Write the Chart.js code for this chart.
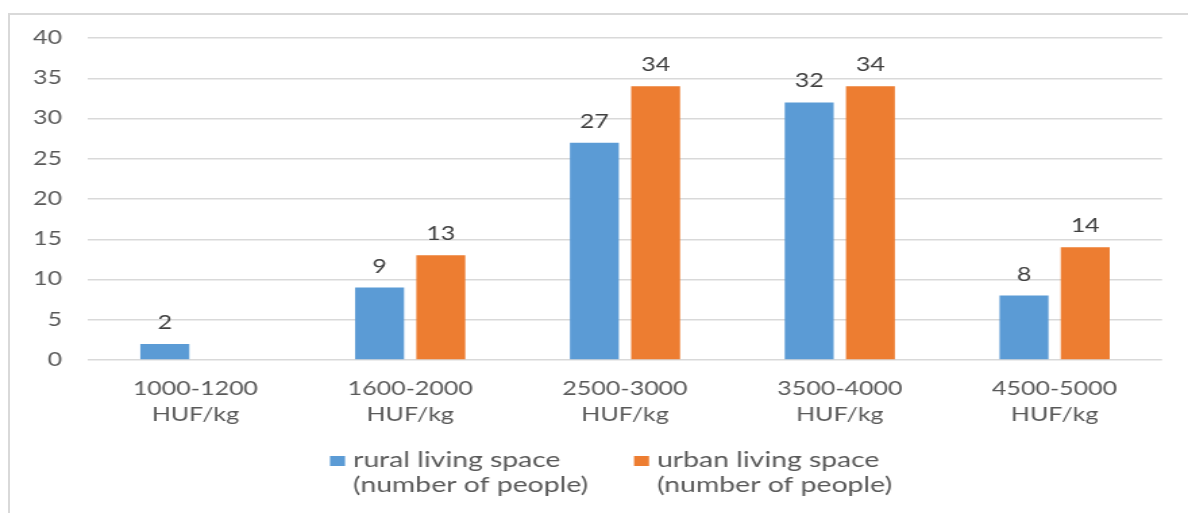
<!DOCTYPE html>
<html>
<head>
<meta charset="utf-8">
<script src="https://cdn.jsdelivr.net/npm/chart.js@4.4.1/dist/chart.umd.min.js"></script>
<style>
    html, body { margin: 0; padding: 0; background: #fff; overflow: hidden; }
    #frame {
        position: absolute; left: 8px; top: 13px; width: 1300px; height: 600px;
        border-left: 2px solid #d9d9d9; border-top: 2px solid #d9d9d9;
    }
    #chart { position: absolute; left: 0; top: 0; }
</style>
</head>
<body>
<div id="frame"></div>
<canvas id="chart" width="880" height="513" style="width:1188px;height:513px"></canvas>
<script>
// the original picture is stretched sideways, so the canvas is too
const STRETCH = 1188 / 880;

const categories = [
    ['1000-1200', 'HUF/kg'],
    ['1600-2000', 'HUF/kg'],
    ['2500-3000', 'HUF/kg'],
    ['3500-4000', 'HUF/kg'],
    ['4500-5000', 'HUF/kg']
];
const rural = [2, 9, 27, 32, 8];
const urban = [null, 13, 34, 34, 14];
const seriesNames = [
    ['rural living space', '(number of people)'],
    ['urban living space', '(number of people)']
];
const seriesColors = ['#5B9BD5', '#ED7D31'];
const yMin = 0, yMax = 40, yStep = 5;

const FONT = 'Lato';
const TEXT = '#595959';

// value labels above bars
const valueLabels = {
    id: 'valueLabels',
    afterDatasetsDraw(chart) {
        const ctx = chart.ctx;
        ctx.save();
        ctx.font = '18.5px ' + FONT;
        ctx.fillStyle = '#404040';
        ctx.textAlign = 'center';
        ctx.textBaseline = 'alphabetic';
        chart.data.datasets.forEach((ds, i) => {
            chart.getDatasetMeta(i).data.forEach((bar, j) => {
                const v = ds.data[j];
                if (v === null || v === undefined) return;
                ctx.fillText(String(v), bar.x, bar.y - 15);
            });
        });
        ctx.restore();
    }
};

// two-line legend below the axis
const twoLineLegend = {
    id: 'twoLineLegend',
    afterDraw(chart) {
        const ctx = chart.ctx;
        const boxX = [330 / STRETCH, 634 / STRETCH];
        const textX = [353 / STRETCH, 657 / STRETCH];
        ctx.save();
        ctx.font = '21px ' + FONT;
        ctx.textBaseline = 'alphabetic';
        ctx.textAlign = 'left';
        seriesNames.forEach((lines, i) => {
            ctx.fillStyle = seriesColors[i];
            ctx.fillRect(boxX[i], 456, 15 / STRETCH, 10);
            ctx.fillStyle = TEXT;
            lines.forEach((line, k) => {
                ctx.fillText(line, textX[i], 467 + k * 25);
            });
        });
        ctx.restore();
    }
};

const ctx = document.getElementById('chart').getContext('2d');
const chart = new Chart(ctx, {
    type: 'bar',
    data: {
        labels: categories,
        datasets: [
            { label: seriesNames[0].join(' '), data: rural, backgroundColor: seriesColors[0] },
            { label: seriesNames[1].join(' '), data: urban, backgroundColor: seriesColors[1] }
        ]
    },
    options: {
        responsive: false,
        animation: false,
        devicePixelRatio: 1,
        layout: { padding: { left: 0, right: 26 / STRETCH, top: 38, bottom: 153 - 80 } },
        datasets: { bar: { barPercentage: 0.8, categoryPercentage: 0.57 } },
        scales: {
            x: {
                grid: { display: false, drawTicks: false },
                border: { display: false },
                ticks: {
                    color: TEXT,
                    font: { family: FONT, size: 18.5, lineHeight: 26 / 18.5 },
                    padding: 16,
                    maxRotation: 0,
                    autoSkip: false
                },
                afterFit(scale) { scale.height = 80; }
            },
            y: {
                min: yMin,
                max: yMax,
                grid: { color: '#d9d9d9', lineWidth: 1.5, drawTicks: false },
                border: { display: false },
                ticks: {
                    stepSize: yStep,
                    color: TEXT,
                    font: { family: FONT, size: 18.5 },
                    padding: 26 / STRETCH
                },
                afterFit(scale) { scale.width = 88 / STRETCH; }
            }
        },
        plugins: {
            legend: { display: false },
            tooltip: { enabled: false }
        }
    },
    plugins: [valueLabels, twoLineLegend]
});
</script>
</body>
</html>
